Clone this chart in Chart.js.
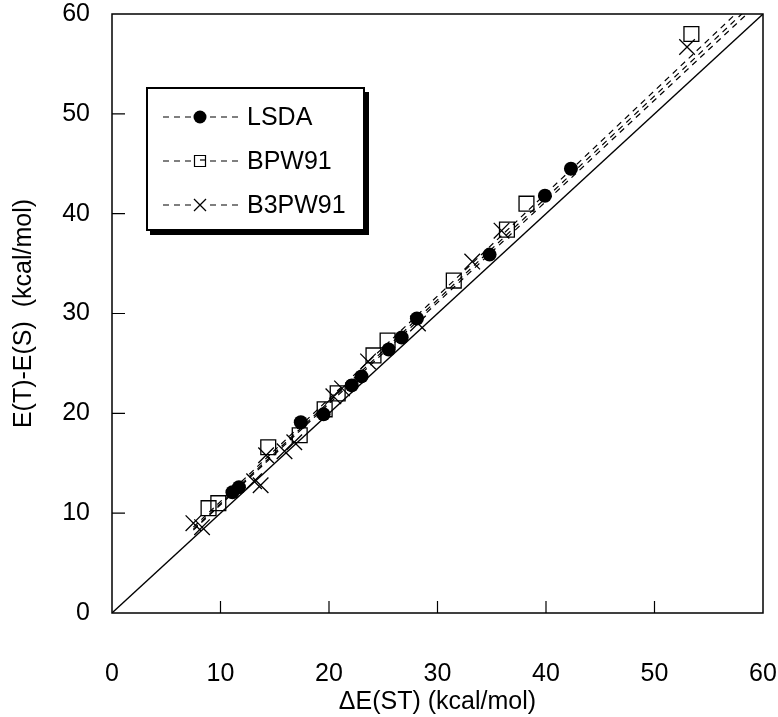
<!DOCTYPE html>
<html>
<head>
<meta charset="utf-8">
<script src="https://cdn.jsdelivr.net/npm/chart.js@4.4.0/dist/chart.umd.min.js"></script>
<style>
  html, body { margin: 0; padding: 0; background: #fff; }
  #chart { display: block; }
</style>
</head>
<body>
<canvas id="chart" width="778" height="717"></canvas>
<script>
// axis ticks
const xTicks = [0, 10, 20, 30, 40, 50, 60]
const yTicks = [0, 10, 20, 30, 40, 50, 60]

// series names
const seriesNames = ["LSDA", "BPW91", "B3PW91"]

// x = dE(ST), y = E(T)-E(S), kcal/mol
const lsdaX = [11.1, 11.7, 17.4, 19.5, 22.1, 23.0, 25.5, 26.7, 28.1, 34.8, 39.9, 42.3]
const lsdaY = [12.1, 12.6, 19.1, 19.9, 22.8, 23.7, 26.4, 27.6, 29.5, 35.9, 41.8, 44.5]

const bpwX = [8.9, 9.8, 14.4, 17.3, 19.6, 20.8, 24.1, 25.4, 31.5, 36.4, 38.2, 53.4]
const bpwY = [10.5, 11.0, 16.6, 17.8, 20.4, 22.0, 25.8, 27.3, 33.3, 38.4, 41.0, 58.0]

const b3pwX = [7.5, 8.3, 13.1, 13.7, 14.2, 15.9, 16.8, 20.4, 21.2, 23.6, 28.2, 33.2, 35.9, 53.0]
const b3pwY = [9.0, 8.6, 13.2, 12.8, 15.8, 16.2, 17.1, 21.7, 22.5, 25.2, 29.0, 35.2, 38.3, 56.7]

// dashed fit lines (end points)
const fitX = [7.5, 60]
const lsdaFitY = [8.4, 62.0]
const bpwFitY = [8.6, 62.6]
const b3pwFitY = [8.3, 61.5]

// y = x reference line
const diagX = [0, 60]
const diagY = [0, 60]

const FONT = "'Liberation Sans', Arial, Helvetica, sans-serif"

function toPoints(xs, ys) {
    return xs.map((x, i) => ({ x: x, y: ys[i] }))
}

function fitLine(ys) {
    return {
        data: toPoints(fitX, ys),
        showLine: true,
        borderColor: "#000",
        borderWidth: 1.2,
        borderDash: [6, 5],
        pointRadius: 0,
        fill: false
    }
}

// frame box + inward tick marks
const framePlugin = {
    id: "frame",
    beforeDatasetsDraw(chart) {
        const ctx = chart.ctx
        const a = chart.chartArea
        const xs = chart.scales.x
        const ys = chart.scales.y
        ctx.save()
        ctx.strokeStyle = "#000"
        ctx.lineWidth = 1.5
        ctx.strokeRect(a.left, a.top, a.right - a.left, a.bottom - a.top)
        ctx.lineWidth = 1.2
        ctx.beginPath()
        xTicks.slice(1, -1).forEach((v) => {
            const px = xs.getPixelForValue(v)
            ctx.moveTo(px, a.bottom)
            ctx.lineTo(px, a.bottom - 12)
        })
        yTicks.slice(1, -1).forEach((v) => {
            const py = ys.getPixelForValue(v)
            ctx.moveTo(a.left, py)
            ctx.lineTo(a.left + 13, py)
        })
        ctx.stroke()
        ctx.restore()
    }
}

function drawMarker(ctx, style, x, y) {
    ctx.beginPath()
    if (style === "circle") {
        ctx.arc(x, y, 6.5, 0, Math.PI * 2)
        ctx.fill()
    } else if (style === "rect") {
        ctx.lineWidth = 1.2
        ctx.rect(x - 5.5, y - 5.5, 11, 11)
        ctx.stroke()
        ctx.beginPath()
        ctx.moveTo(x, y - 1)
        ctx.lineTo(x + 5.5, y - 1)
        ctx.stroke()
    } else {
        ctx.lineWidth = 1.3
        ctx.moveTo(x - 6, y - 6)
        ctx.lineTo(x + 6, y + 6)
        ctx.moveTo(x + 6, y - 6)
        ctx.lineTo(x - 6, y + 6)
        ctx.stroke()
    }
}

// boxed legend with drop shadow inside the plot
const legendPlugin = {
    id: "boxLegend",
    afterDatasetsDraw(chart) {
        const ctx = chart.ctx
        const bx = 147, by = 88, bw = 217, bh = 142
        ctx.save()
        ctx.fillStyle = "#fff"
        ctx.fillRect(bx, by, bw, bh)
        ctx.strokeStyle = "#000"
        ctx.lineWidth = 2
        ctx.strokeRect(bx, by, bw, bh)
        ctx.fillStyle = "#000"
        ctx.fillRect(bx + 3, by + bh, bw + 2, 5)
        ctx.fillRect(bx + bw, by + 4, 5, bh + 1)

        const styles = ["circle", "rect", "crossRot"]
        seriesNames.forEach((name, i) => {
            const y = 117 + i * 44
            ctx.strokeStyle = "#000"
            ctx.fillStyle = "#000"
            ctx.lineWidth = 1.2
            ctx.setLineDash([6, 5])
            ctx.beginPath()
            ctx.moveTo(163, y)
            ctx.lineTo(191, y)
            ctx.moveTo(210, y)
            ctx.lineTo(238, y)
            ctx.stroke()
            ctx.setLineDash([])
            drawMarker(ctx, styles[i], 200, y)
            ctx.font = "25px " + FONT
            ctx.textBaseline = "middle"
            ctx.textAlign = "left"
            ctx.fillText(name, 247, y + 1)
        })
        ctx.restore()
    }
}

const chart = new Chart(document.getElementById("chart"), {
    type: "scatter",
    data: {
        datasets: [
            {
                label: seriesNames[0],
                data: toPoints(lsdaX, lsdaY),
                pointStyle: "circle",
                pointRadius: 7,
                pointBackgroundColor: "#000",
                pointBorderColor: "#000",
                pointBorderWidth: 0
            },
            {
                label: seriesNames[1],
                data: toPoints(bpwX, bpwY),
                pointStyle: "rect",
                pointRadius: 10.5,
                pointBackgroundColor: "rgba(255,255,255,0)",
                pointBorderColor: "#000",
                pointBorderWidth: 1.3
            },
            {
                label: seriesNames[2],
                data: toPoints(b3pwX, b3pwY),
                pointStyle: "crossRot",
                pointRadius: 11,
                pointBorderColor: "#000",
                pointBorderWidth: 1.3
            },
            fitLine(lsdaFitY),
            fitLine(bpwFitY),
            fitLine(b3pwFitY),
            {
                data: toPoints(diagX, diagY),
                showLine: true,
                borderColor: "#000",
                borderWidth: 1.3,
                pointRadius: 0,
                fill: false
            }
        ]
    },
    options: {
        responsive: false,
        animation: false,
        events: [],
        layout: { padding: { top: 14, right: 15, left: 0, bottom: 0 } },
        plugins: {
            legend: { display: false },
            tooltip: { enabled: false }
        },
        scales: {
            x: {
                type: "linear",
                min: 0,
                max: 60,
                afterBuildTicks: (s) => { s.ticks = xTicks.map((v) => ({ value: v })) },
                afterFit: (s) => {
                    s.height = 104
                    s.paddingLeft = 0
                    s.paddingRight = 0
                },
                grid: { display: false, drawTicks: false },
                border: { display: false },
                ticks: {
                    color: "#000",
                    padding: 46,
                    maxRotation: 0,
                    font: { family: FONT, size: 25 }
                },
                title: {
                    display: true,
                    text: "\u0394E(ST) (kcal/mol)",
                    color: "#000",
                    padding: { top: 0, bottom: 0 },
                    font: { family: FONT, size: 25 }
                }
            },
            y: {
                type: "linear",
                min: 0,
                max: 60,
                afterBuildTicks: (s) => { s.ticks = yTicks.map((v) => ({ value: v })) },
                afterFit: (s) => {
                    s.width = 112
                    s.paddingTop = 0
                    s.paddingBottom = 0
                },
                grid: { display: false, drawTicks: false },
                border: { display: false },
                ticks: {
                    color: "#000",
                    padding: 22,
                    font: { family: FONT, size: 25 }
                },
                title: {
                    display: true,
                    text: "E(T)-E(S)  (kcal/mol)",
                    color: "#000",
                    padding: { top: 9, bottom: 0 },
                    font: { family: FONT, size: 25 }
                }
            }
        }
    },
    plugins: [framePlugin, legendPlugin]
})
</script>
</body>
</html>
